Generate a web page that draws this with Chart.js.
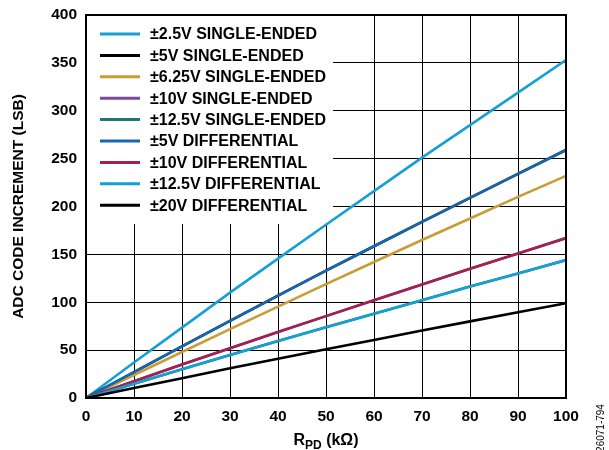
<!DOCTYPE html>
<html>
<head>
<meta charset="utf-8">
<script src="https://cdn.jsdelivr.net/npm/chart.js@4"></script>
<style>
  html, body { margin: 0; padding: 0; background: #fff; }
  #wrap { width: 609px; height: 450px; }
</style>
</head>
<body>
<div id="wrap"><canvas id="adcChart" width="609" height="450"></canvas></div>
<script>
// R_PD in kOhm
const rpd = [0, 10, 20, 30, 40, 50, 60, 70, 80, 90, 100];

const se2v5 = [0, 37, 73.5, 110, 145.5, 181, 216, 251, 285, 319, 353];
const se5 = [0, 27, 54, 80.5, 107, 133, 158.5, 184, 209, 234, 259];
const se6v25 = [0, 24, 48, 72, 95.5, 119, 142, 165, 187.5, 210, 232];
const se10 = [0, 17.5, 35, 52, 69, 85.5, 102, 118.5, 135, 151, 167];
const se12v5 = [0, 15, 30, 45, 59.5, 74, 88, 102, 116.5, 130, 144];
const diff5 = [0, 27, 54, 80.5, 107, 133, 158.5, 184, 209, 234, 259];
const diff10 = [0, 17.5, 35, 52, 69, 85.5, 102, 118.5, 135, 151, 167];
const diff12v5 = [0, 15, 30, 45, 59.5, 74, 88, 102, 116.5, 130, 144];
const diff20 = [0, 10.4, 20.6, 31, 41, 51, 60.5, 70.5, 80, 89.5, 99];

const seriesNames = [
  "±2.5V SINGLE-ENDED", "±5V SINGLE-ENDED", "±6.25V SINGLE-ENDED",
  "±10V SINGLE-ENDED", "±12.5V SINGLE-ENDED", "±5V DIFFERENTIAL",
  "±10V DIFFERENTIAL", "±12.5V DIFFERENTIAL", "±20V DIFFERENTIAL"
];
const seriesData = [se2v5, se5, se6v25, se10, se12v5, diff5, diff10, diff12v5, diff20];
const seriesColors = [
  "#14a0d6", "#000000", "#c99c34", "#7b4a9c", "#1d7a6c",
  "#1768b0", "#a3204f", "#14a0d6", "#000000"
];

const yTicks = [0, 50, 100, 150, 200, 250, 300, 350, 400];

const FONT = "'Liberation Sans', Arial, sans-serif";

const decor = {
  id: "decor",
  beforeDatasetsDraw(chart) {
    const { ctx, chartArea: a } = chart;
    ctx.save();
    // legend box sits over the grid, under the lines
    ctx.fillStyle = "#fff";
    ctx.fillRect(a.left + 1, a.top + 1, 246, 208);
    ctx.font = "bold 16px " + FONT;
    ctx.textBaseline = "middle";
    seriesNames.forEach((name, i) => {
      const y = a.top + 19 + i * 21.4;
      ctx.strokeStyle = seriesColors[i];
      ctx.lineWidth = 3;
      ctx.beginPath();
      ctx.moveTo(100, y);
      ctx.lineTo(140, y);
      ctx.stroke();
      ctx.fillStyle = "#000";
      ctx.fillText(name, 150, y + 1);
    });
    ctx.restore();
  },
  afterDraw(chart) {
    const { ctx, chartArea: a } = chart;
    ctx.save();
    // frame
    ctx.strokeStyle = "#000";
    ctx.lineWidth = 2;
    ctx.strokeRect(a.left, a.top, a.right - a.left, a.bottom - a.top);
    // y title
    ctx.fillStyle = "#000";
    ctx.font = "bold 15.5px " + FONT;
    ctx.textAlign = "center";
    ctx.translate(23, (a.top + a.bottom) / 2);
    ctx.rotate(-Math.PI / 2);
    ctx.fillText("ADC CODE INCREMENT (LSB)", 0, 0);
    ctx.restore();

    // x title with subscript
    ctx.save();
    ctx.fillStyle = "#000";
    ctx.textBaseline = "alphabetic";
    const big = "bold 16px " + FONT, small = "bold 12px " + FONT;
    ctx.font = big;
    const wR = ctx.measureText("R").width;
    const wRest = ctx.measureText(" (kΩ)").width;
    ctx.font = small;
    const wSub = ctx.measureText("PD").width;
    let x = (a.left + a.right) / 2 - (wR + wSub + wRest) / 2;
    const base = 445;
    ctx.font = big;
    ctx.fillText("R", x, base);
    x += wR;
    ctx.font = small;
    ctx.fillText("PD", x, base + 4);
    x += wSub;
    ctx.font = big;
    ctx.fillText(" (kΩ)", x, base);
    ctx.restore();

    // figure id
    ctx.save();
    ctx.fillStyle = "#000";
    ctx.font = "10px " + FONT;
    ctx.textAlign = "center";
    ctx.textBaseline = "middle";
    ctx.translate(601, 428);
    ctx.rotate(-Math.PI / 2);
    ctx.fillText("26071-794", 0, 0);
    ctx.restore();
  }
};

new Chart(document.getElementById("adcChart").getContext("2d"), {
  type: "line",
  data: {
    labels: rpd,
    datasets: seriesData.map((d, i) => ({
      label: seriesNames[i],
      data: d.map((v, j) => ({ x: rpd[j], y: v })),
      borderColor: seriesColors[i],
      borderWidth: 2.6,
      pointRadius: 0,
      tension: 0,
      fill: false,
      order: -i,
    })),
  },
  options: {
    responsive: false,
    animation: false,
    layout: { padding: { left: 0, top: 15, right: 43, bottom: 0 } },
    plugins: { legend: { display: false }, tooltip: { enabled: false } },
    scales: {
      x: {
        type: "linear",
        min: 0,
        max: 100,
        afterFit: (s) => { s.height = 52; s.paddingLeft = 0; s.paddingRight = 0; },
        ticks: {
          stepSize: 10,
          padding: 9,
          color: "#000",
          font: { family: FONT, size: 15.5, weight: "bold" },
        },
        grid: { color: "#000", lineWidth: 1, drawTicks: false },
        border: { color: "#000", width: 2 },
      },
      y: {
        min: 0,
        max: 400,
        afterFit: (s) => { s.width = 86; s.paddingTop = 0; s.paddingBottom = 0; },
        afterBuildTicks: (s) => { s.ticks = yTicks.map((v) => ({ value: v })); },
        ticks: {
          padding: 9,
          color: "#000",
          font: { family: FONT, size: 15.5, weight: "bold" },
        },
        grid: { color: "#000", lineWidth: 1, drawTicks: false },
        border: { color: "#000", width: 2 },
      },
    },
  },
  plugins: [decor],
});
</script>
</body>
</html>
